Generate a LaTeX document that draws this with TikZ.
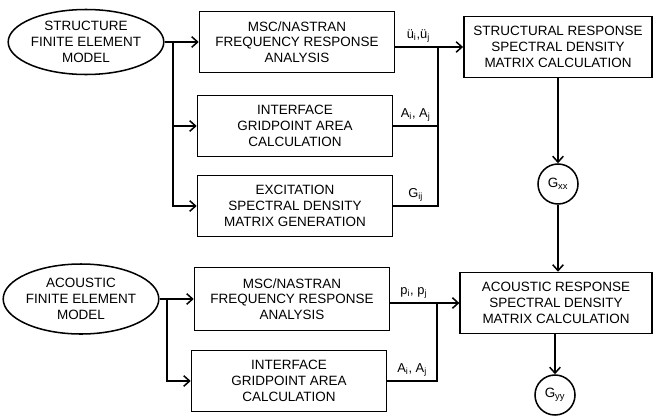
\documentclass[tikz,border=0pt]{standalone}
\usepackage{fontspec}
\setmainfont{Liberation Sans}
\usetikzlibrary{arrows.meta,positioning,shapes.geometric,calc}

\begin{document}
\begin{tikzpicture}[x=0.03cm,y=-0.03cm,
        line width=1.3pt,
        >={Straight Barb[length=5pt,width=9pt]},
        every node/.style={font=\fontsize{11.5}{13.5}\selectfont},
        procbox/.style={draw, rectangle, align=center, minimum width=5.85cm, minimum height=1.83cm, inner sep=2pt},
        model/.style={draw, ellipse, align=center, inner sep=0pt},
        spectrum/.style={draw, circle, minimum size=1.2cm, inner sep=0pt},
        signal/.style={above, inner sep=3pt, font=\fontsize{11}{13}\selectfont},
    ]
        \useasboundingbox (0,0) rectangle (653,417);

        % structure side
        \node[model, minimum width=4.26cm, minimum height=1.95cm] (strModel) at (86,42) {STRUCTURE\\FINITE ELEMENT\\MODEL};
        \node[procbox] (strFreq) at (297,42) {MSC/NASTRAN\\FREQUENCY RESPONSE\\ANALYSIS};
        \node[procbox] (strArea) at (295,126) {INTERFACE\\GRIDPOINT AREA\\CALCULATION};
        \node[procbox] (excit) at (295,206) {EXCITATION\\SPECTRAL DENSITY\\MATRIX GENERATION};
        \node[procbox, minimum width=5.65cm] (strResp) at (558,47) {STRUCTURAL RESPONSE\\SPECTRAL DENSITY\\MATRIX CALCULATION};
        \node[spectrum] (Gxx) at (558,184) {G\textsubscript{xx}};

        % acoustic side
        \node[model, minimum width=4.35cm, minimum height=2.1cm] (acModel) at (81,299) {ACOUSTIC\\FINITE ELEMENT\\MODEL};
        \node[procbox, minimum height=1.9cm] (acFreq) at (292,299) {MSC/NASTRAN\\FREQUENCY RESPONSE\\ANALYSIS};
        \node[procbox] (acArea) at (289,381) {INTERFACE\\GRIDPOINT AREA\\CALCULATION};
        \node[procbox, minimum width=5.75cm] (acResp) at (556,303) {ACOUSTIC RESPONSE\\SPECTRAL DENSITY\\MATRIX CALCULATION};
        \node[spectrum] (Gyy) at (555,395) {G\textsubscript{yy}};

        % structure connectors
        \coordinate (strFork) at (173,42);
        \coordinate (strJoin) at (438,47);
        \draw[->] (strModel.east) -- (strFreq.west);
        \draw[->] (strFork) |- (strArea.west);
        \draw[->] (strFork) |- (excit.west);
        \draw[->] (strFreq.east |- strResp.west) -- node[signal, pos=0.34] {ü\textsubscript{i},ü\textsubscript{j}} (strResp.west);
        \draw (strArea.east) -| node[signal, pos=0.25] {A\textsubscript{i}, A\textsubscript{j}} (strJoin);
        \draw (excit.east) -| node[signal, pos=0.25] {G\textsubscript{ij}} (strJoin);
        \draw[->] (strResp.south) -- (Gxx.north);
        \draw[->] (Gxx.south) -- (Gxx.south |- acResp.north);

        % acoustic connectors
        \coordinate (acFork) at (167,299);
        \coordinate (acJoin) at (437,303);
        \draw[->] (acModel.east) -- (acFreq.west);
        \draw[->] (acFork) |- (acArea.west);
        \draw[->] (acFreq.east |- acResp.west) -- node[signal, pos=0.34] {p\textsubscript{i}, p\textsubscript{j}} (acResp.west);
        \draw (acArea.east) -| node[signal, pos=0.25] {A\textsubscript{i}, A\textsubscript{j}} (acJoin);
        \draw[->] (acResp.south -| Gyy) -- (Gyy.north);
    \end{tikzpicture}
\end{document}
